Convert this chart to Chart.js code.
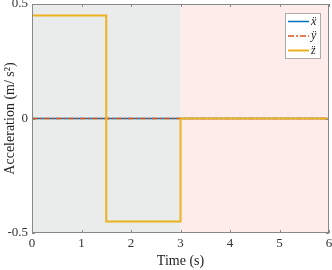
<!DOCTYPE html>
<html><head><meta charset="utf-8">
<script src="https://cdn.jsdelivr.net/npm/chart.js"></script>
<style>html,body{margin:0;padding:0;background:#fff}#c{display:block}</style>
</head><body>
<canvas id="c" width="332" height="270"></canvas>
<script>
const labels = ['ẍ', 'ÿ', 'z̈'];
const tX = [0, 6];
const xVals = [0, 0];
const yVals = [0, 0];
const tZ = [0, 1.5, 1.5, 3, 3, 6];
const zVals = [0.45, 0.45, -0.45, -0.45, 0, 0];
const xTicks = [0, 1, 2, 3, 4, 5, 6];
const yTicks = [-0.5, 0, 0.5];
const regions = [[0, 3, '#e9ecea'], [3, 6, '#fdecea']];

const toPts = (t, v) => t.map((x, i) => ({x, y: v[i]}));
const FONT = "'Liberation Serif', 'DejaVu Serif', serif";

const bgPlugin = {
  id: 'bg',
  beforeDatasetsDraw(chart) {
    const {ctx, chartArea: a, scales: {x}} = chart;
    ctx.save();
    regions.forEach(([s, e, c]) => {
      ctx.fillStyle = c;
      const x0 = x.getPixelForValue(s), x1 = x.getPixelForValue(e);
      ctx.fillRect(x0, a.top, x1 - x0, a.bottom - a.top);
    });
    ctx.restore();
  },
  afterDatasetsDraw(chart) {
    const {ctx, chartArea: a, scales: {x, y}} = chart;
    ctx.save();
    ctx.strokeStyle = '#888';
    ctx.lineWidth = 1;
    ctx.strokeRect(Math.round(a.left) + 0.5, Math.round(a.top) + 0.5, Math.round(a.right - a.left) - 1, Math.round(a.bottom - a.top) - 1);
    ctx.beginPath();
    xTicks.forEach(v => {
      const px = Math.round(x.getPixelForValue(v)) + 0.5;
      ctx.moveTo(px, a.bottom); ctx.lineTo(px, a.bottom - 3);
      ctx.moveTo(px, a.top); ctx.lineTo(px, a.top + 3);
    });
    yTicks.forEach(v => {
      const py = Math.round(y.getPixelForValue(v)) + 0.5;
      ctx.moveTo(a.left, py); ctx.lineTo(a.left + 3, py);
      ctx.moveTo(a.right, py); ctx.lineTo(a.right - 3, py);
    });
    ctx.stroke();
    // legend
    const lx = 285, ly = 13, lw = 35, lh = 45;
    ctx.fillStyle = '#fff';
    ctx.fillRect(lx + 0.5, ly + 0.5, lw, lh);
    ctx.strokeStyle = '#aaa';
    ctx.strokeRect(lx + 0.5, ly + 0.5, lw, lh);
    chart.data.datasets.forEach((ds, i) => {
      const cy = ly + 8.5 + i * 14.5;
      ctx.strokeStyle = ds.borderColor;
      ctx.lineWidth = ds.borderWidth;
      ctx.setLineDash(ds.borderDash || []);
      ctx.beginPath(); ctx.moveTo(lx + 3, cy); ctx.lineTo(lx + 24, cy); ctx.stroke();
      ctx.setLineDash([]);
      ctx.fillStyle = '#222';
      ctx.font = "italic 12px " + FONT;
      ctx.textBaseline = 'middle';
      ctx.fillText(ds.label, lx + 26, cy);
    });
    ctx.restore();
  }
};

new Chart(document.getElementById('c'), {
  type: 'line',
  data: {
    datasets: [
      {label: labels[0], data: toPts(tX, xVals), borderColor: '#0072BD', borderWidth: 1.5, pointRadius: 0, fill: false, order: 2},
      {label: labels[1], data: toPts(tX, yVals), borderColor: '#D95319', borderWidth: 1.5, borderDash: [6, 2, 2, 2], pointRadius: 0, fill: false, order: 1},
      {label: labels[2], data: toPts(tZ, zVals), borderColor: '#EDB120', borderWidth: 2, pointRadius: 0, fill: false, order: 0}
    ]
  },
  options: {
    responsive: false,
    animation: false,
    layout: {padding: {top: 4, right: 3, left: 0, bottom: 0}},
    plugins: {legend: {display: false}, tooltip: {enabled: false}},
    scales: {
      x: {
        type: 'linear', min: 0, max: 6,
        afterBuildTicks: s => { s.ticks = xTicks.map(v => ({value: v})); },
        afterFit: s => { s.height = 37; s.paddingLeft = 0; s.paddingRight = 0; },
        grid: {display: false, drawTicks: false},
        border: {display: false},
        ticks: {color: '#333', font: {family: FONT, size: 13}, padding: 3, maxRotation: 0},
        title: {display: true, text: 'Time (s)', color: '#222', font: {family: FONT, size: 14}, padding: {top: 0, bottom: 0}}
      },
      y: {
        type: 'linear', min: -0.5, max: 0.5,
        afterBuildTicks: s => { s.ticks = yTicks.map(v => ({value: v})); },
        afterFit: s => { s.width = 32; s.paddingTop = 0; s.paddingBottom = 0; },
        grid: {display: false, drawTicks: false},
        border: {display: false},
        ticks: {color: '#333', font: {family: FONT, size: 13}, padding: 4, callback: v => String(v)},
        title: {display: true, text: 'Acceleration (m/ s²)', color: '#222', font: {family: FONT, size: 14}, padding: {top: 2, bottom: 0}}
      }
    }
  },
  plugins: [bgPlugin]
});
</script>
</body></html>
